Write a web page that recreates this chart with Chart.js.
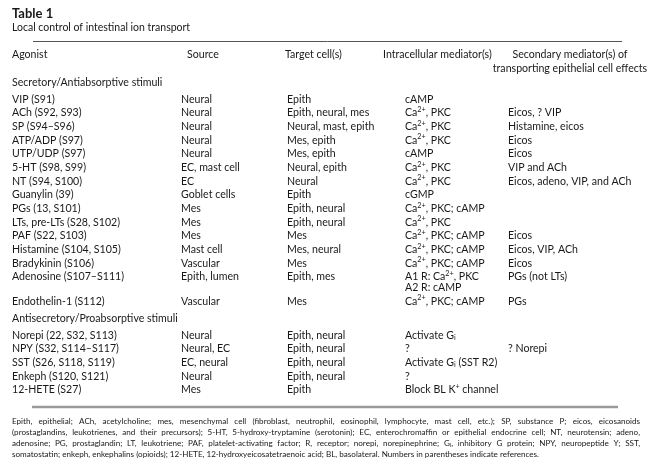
<!DOCTYPE html>
<html>
<head>
<meta charset="utf-8">
<script src="https://cdn.jsdelivr.net/npm/chart.js@4.4.1/dist/chart.umd.min.js"></script>
<style>
  html, body { margin: 0; padding: 0; background: #fff; }
  #wrap { width: 654px; height: 468px; position: relative; }
</style>
</head>
<body>
<div id="wrap"><canvas id="table1"></canvas></div>
<script>
// ---- table content ----
var TITLE = 'Table 1';
var SUBTITLE = 'Local control of intestinal ion transport';
var HEADERS = [
  ['Agonist'],
  ['Source'],
  ['Target cell(s)'],
  ['Intracellular mediator(s)'],
  ['Secondary mediator(s) of', 'transporting epithelial cell effects']
];
var SECTIONS = ['Secretory/Antiabsorptive stimuli', 'Antisecretory/Proabsorptive stimuli'];
var SECTION_START = [0, 15];

var AGONISTS = [
  'VIP (S91)', 'ACh (S92, S93)', 'SP (S94–S96)', 'ATP/ADP (S97)', 'UTP/UDP (S97)',
  '5-HT (S98, S99)', 'NT (S94, S100)', 'Guanylin (39)', 'PGs (13, S101)',
  'LTs, pre-LTs (S28, S102)', 'PAF (S22, S103)', 'Histamine (S104, S105)',
  'Bradykinin (S106)', 'Adenosine (S107–S111)', 'Endothelin-1 (S112)',
  'Norepi (22, S32, S113)', 'NPY (S32, S114–S117)', 'SST (S26, S118, S119)',
  'Enkeph (S120, S121)', '12-HETE (S27)'
];
var SOURCES = [
  'Neural', 'Neural', 'Neural', 'Neural', 'Neural', 'EC, mast cell', 'EC', 'Goblet cells',
  'Mes', 'Mes', 'Mes', 'Mast cell', 'Vascular', 'Epith, lumen', 'Vascular',
  'Neural', 'Neural, EC', 'EC, neural', 'Neural', 'Mes'
];
var TARGETS = [
  'Epith', 'Epith, neural, mes', 'Neural, mast, epith', 'Mes, epith', 'Mes, epith',
  'Neural, epith', 'Neural', 'Epith', 'Epith, neural', 'Epith, neural', 'Mes',
  'Mes, neural', 'Mes', 'Epith, mes', 'Mes',
  'Epith, neural', 'Epith, neural', 'Epith, neural', 'Epith, neural', 'Epith'
];
var INTRACELLULAR = [
  'cAMP', 'Ca^{2+}, PKC', 'Ca^{2+}, PKC', 'Ca^{2+}, PKC', 'cAMP', 'Ca^{2+}, PKC',
  'Ca^{2+}, PKC', 'cGMP', 'Ca^{2+}, PKC; cAMP', 'Ca^{2+}, PKC', 'Ca^{2+}, PKC; cAMP',
  'Ca^{2+}, PKC; cAMP', 'Ca^{2+}, PKC; cAMP', 'A1 R: Ca^{2+}, PKC\nA2 R: cAMP',
  'Ca^{2+}, PKC; cAMP',
  'Activate G_{i}', '?', 'Activate G_{i} (SST R2)', '?', 'Block BL K^{+} channel'
];
var SECONDARY = [
  '', 'Eicos, ? VIP', 'Histamine, eicos', 'Eicos', 'Eicos', 'VIP and ACh',
  'Eicos, adeno, VIP, and ACh', '', '', '', 'Eicos', 'Eicos, VIP, ACh', 'Eicos',
  'PGs (not LTs)', 'PGs',
  '', '? Norepi', '', '', ''
];
var FOOTNOTE = [
  'Epith, epithelial; ACh, acetylcholine; mes, mesenchymal cell (fibroblast, neutrophil, eosinophil, lymphocyte, mast cell, etc.); SP, substance P; eicos, eicosanoids',
  '(prostaglandins, leukotrienes, and their precursors); 5-HT, 5-hydroxy-tryptamine (serotonin); EC, enterochromaffin or epithelial endocrine cell; NT, neurotensin; adeno,',
  'adenosine; PG, prostaglandin; LT, leukotriene; PAF, platelet-activating factor; R, receptor; norepi, norepinephrine; G_{i}, inhibitory G protein; NPY, neuropeptide Y; SST,',
  'somatostatin; enkeph, enkephalins (opioids); 12-HETE, 12-hydroxyeicosatetraenoic acid; BL, basolateral. Numbers in parentheses indicate references.'
];

// ---- layout ----
var FAMILY = 'Lato, "Open Sans", sans-serif';
var INK = '#1a1818';
var TITLE_SIZE = 13, SUB_SIZE = 10.5, BODY = 10.6, NOTE_SIZE = 8.1;
var COL_X = [0, 169, 275, 393, 496];      // column starts, from chart left
var HEAD_X = [0, 175, 273, 371];          // header starts (last one centred)
var HEAD_CENTER = 558;
var SECTION_GAP = 0.25;                   // extra space around section rows
var WRAP_STEP = 0.78;                     // second line inside one cell

// rich text: ^{..} superscript, _{..} subscript
function parseRich(s) {
  var out = [], re = /(\^|_)\{([^}]*)\}/g, last = 0, m;
  while ((m = re.exec(s))) {
    if (m.index > last) out.push({ t: s.slice(last, m.index), k: 0 });
    out.push({ t: m[2], k: m[1] === '^' ? 1 : -1 });
    last = re.lastIndex;
  }
  if (last < s.length) out.push({ t: s.slice(last), k: 0 });
  return out;
}
function segFont(seg, size, weight) {
  return weight + ' ' + (seg.k ? size * 0.68 : size) + 'px ' + FAMILY;
}
function richWidth(ctx, s, size, weight) {
  var w = 0;
  parseRich(s).forEach(function (seg) {
    ctx.font = segFont(seg, size, weight);
    w += ctx.measureText(seg.t).width;
  });
  return w;
}
function drawRich(ctx, s, x, y, size, weight, align) {
  if (align === 'center') x -= richWidth(ctx, s, size, weight) / 2;
  ctx.textAlign = 'left';
  ctx.textBaseline = 'middle';
  parseRich(s).forEach(function (seg) {
    ctx.font = segFont(seg, size, weight);
    var dy = seg.k === 1 ? -size * 0.3 : (seg.k === -1 ? size * 0.22 : 0);
    ctx.fillText(seg.t, x, y + dy);
    x += ctx.measureText(seg.t).width;
  });
}
function drawJustified(ctx, s, x, y, width, size) {
  var words = s.split(' ');
  var widths = words.map(function (w) { return richWidth(ctx, w, size, 'normal'); });
  var total = widths.reduce(function (a, b) { return a + b; }, 0);
  var gap = (width - total) / (words.length - 1);
  words.forEach(function (w, i) {
    drawRich(ctx, w, x, y, size, 'normal', 'left');
    x += widths[i] + gap;
  });
}

// vertical slots: header lines, section rows, table rows
var slots = [];
(function buildSlots() {
  slots.push({ slot: 0, kind: 'head', line: 0 });
  slots.push({ slot: 1, kind: 'head', line: 1 });
  var s = 2;
  AGONISTS.forEach(function (_, r) {
    var sec = SECTION_START.indexOf(r);
    if (sec >= 0) {
      if (sec > 0) s += SECTION_GAP;
      slots.push({ slot: s, kind: 'section', sec: sec });
      s += 1 + SECTION_GAP;
    }
    var lines = INTRACELLULAR[r].split('\n').length;
    slots.push({ slot: s, kind: 'row', row: r });
    s += 1 + (lines - 1) * WRAP_STEP;
  });
})();
var LAST_SLOT = slots[slots.length - 1].slot;

var tablePlugin = {
  id: 'tableText',
  afterDraw: function (chart) {
    var ctx = chart.ctx, xs = chart.scales.x, ys = chart.scales.y;
    var area = chart.chartArea;
    ctx.save();
    ctx.fillStyle = INK;

    // title block
    drawRich(ctx, TITLE, xs.getPixelForValue(0), 14, TITLE_SIZE, 'bold', 'left');
    drawRich(ctx, SUBTITLE, xs.getPixelForValue(0), 27.5, SUB_SIZE, 'normal', 'left');

    // top rule
    ctx.strokeStyle = '#555';
    ctx.lineWidth = 1;
    ctx.beginPath();
    ctx.moveTo(xs.getPixelForValue(21), 41.5);
    ctx.lineTo(xs.getPixelForValue(610), 41.5);
    ctx.stroke();

    slots.forEach(function (sl) {
      var y = ys.getPixelForValue(sl.slot);
      if (sl.kind === 'head') {
        HEADERS.forEach(function (h, c) {
          if (!h[sl.line]) return;
          if (c < 4) drawRich(ctx, h[sl.line], xs.getPixelForValue(HEAD_X[c]), y, BODY, 'normal', 'left');
          else drawRich(ctx, h[sl.line], xs.getPixelForValue(HEAD_CENTER), y, BODY, 'normal', 'center');
        });
      } else if (sl.kind === 'section') {
        drawRich(ctx, SECTIONS[sl.sec], xs.getPixelForValue(0), y, BODY, 'normal', 'left');
      } else {
        var r = sl.row;
        [AGONISTS, SOURCES, TARGETS, INTRACELLULAR, SECONDARY].forEach(function (col, c) {
          col[r].split('\n').forEach(function (txt, li) {
            if (!txt) return;
            var ly = ys.getPixelForValue(sl.slot + li * WRAP_STEP);
            drawRich(ctx, txt, xs.getPixelForValue(COL_X[c]), ly, BODY, 'normal', 'left');
          });
        });
      }
    });

    // bottom rule
    var ruleY = area.bottom + 17;
    ctx.strokeStyle = '#9a9a9a';
    ctx.lineWidth = 2.5;
    ctx.beginPath();
    ctx.moveTo(xs.getPixelForValue(20), ruleY);
    ctx.lineTo(xs.getPixelForValue(606), ruleY);
    ctx.stroke();

    // footnote, justified except the last line
    var left = xs.getPixelForValue(0), width = xs.getPixelForValue(628) - left;
    FOOTNOTE.forEach(function (line, i) {
      var y = ruleY + 14 + i * 11.1;
      if (i < FOOTNOTE.length - 1) drawJustified(ctx, line, left, y, width, NOTE_SIZE);
      else drawRich(ctx, line, left, y, NOTE_SIZE, 'normal', 'left');
    });
    ctx.restore();
  }
};

new Chart(document.getElementById('table1'), {
  type: 'scatter',
  data: { datasets: [] },
  options: {
    responsive: true,
    maintainAspectRatio: false,
    animation: false,
    events: [],
    layout: { padding: { left: 12, right: 12, top: 55, bottom: 78 } },
    plugins: { legend: { display: false }, tooltip: { enabled: false } },
    scales: {
      x: { type: 'linear', min: 0, max: 630, display: false },
      y: { type: 'linear', min: 0, max: LAST_SLOT, reverse: true, display: false }
    }
  },
  plugins: [tablePlugin]
});
</script>
</body>
</html>
